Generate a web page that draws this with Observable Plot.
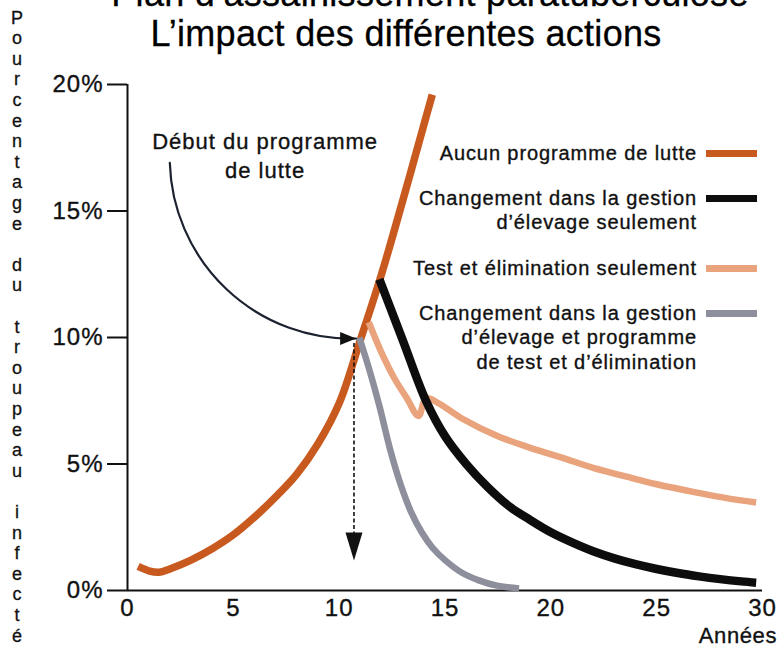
<!DOCTYPE html>
<html><head><meta charset="utf-8">
<script src="https://cdn.jsdelivr.net/npm/d3@7"></script>
<script src="https://cdn.jsdelivr.net/npm/@observablehq/plot@0.6"></script>
<style>
body{margin:0;background:#fff;font-family:"Liberation Sans",Arial,Helvetica,sans-serif;color:#111}
#wrap{position:relative;width:780px;height:651px;overflow:hidden;background:#fff}
.tl{position:absolute;white-space:nowrap;text-align:center;font-size:36px;line-height:40px;letter-spacing:0.3px;color:#000;-webkit-text-stroke:0.3px #000}
#t1{left:0;width:860px;top:-26px}
#t2{left:0;width:812px;top:14px}
#ylab{position:absolute;left:0;top:7.7px;width:34px;text-align:center;font-size:18px;line-height:20.6px;color:#111;z-index:5;-webkit-text-stroke:0.3px #111}
#chart{position:absolute;left:0;top:60px;z-index:1}
#legend{position:absolute;left:0;top:0;width:780px;height:651px;pointer-events:none;z-index:6}
.lt{position:absolute;right:83px;font-size:20px;line-height:24.5px;letter-spacing:0.9px;text-align:right;white-space:nowrap;color:#111;-webkit-text-stroke:0.35px #111}
.sw{position:absolute;left:706px;width:51px;height:7px}
#xlab{position:absolute;right:3px;top:623px;font-size:22px;line-height:26px;letter-spacing:0.6px;color:#111;z-index:6;-webkit-text-stroke:0.35px #111}
</style></head>
<body><div id="wrap">
<div id="t1" class="tl">Plan d’assainissement paratuberculose</div>
<div id="t2" class="tl">L’impact des différentes actions</div>
<div id="chart"></div>
<div id="ylab"></div>
<div id="legend"></div>
<div id="xlab">Années</div>
</div>
<script>
// ---- data (years, % of infected herd) ----
const aucun = [[0.5,0.95],[1.0,0.78],[1.5,0.72],[2.0,0.85],[3.0,1.2],[4.0,1.65],[5.0,2.2],[6.0,2.9],[7.0,3.7],[8.0,4.6],[9.0,5.8],[10.0,7.4],[11.0,9.9],[12.0,12.5],[13.0,15.4],[14.0,18.4],[14.4,19.6]];
const gestion = [[11.9,12.3],[13.0,9.9],[14.1,7.5],[15,6.1],[16,5.0],[17,4.1],[18,3.35],[19,2.8],[20,2.3],[21,1.9],[22,1.55],[23,1.27],[24,1.04],[25,0.85],[26,0.69],[27,0.56],[28,0.45],[29,0.36],[29.7,0.31]];
const testElim = [[11.4,10.6],[12.0,9.4],[12.6,8.4],[13.2,7.6],[13.75,6.9],[14.1,7.6],[14.7,7.4],[15.8,6.8],[17.5,6.1],[19,5.65],[20.7,5.2],[22,4.85],[23.8,4.45],[25,4.2],[26.9,3.87],[28.3,3.65],[29.7,3.48]];
const combine = [[10.95,10],[11.4,8.8],[11.9,7.3],[12.4,5.6],[12.9,4.2],[13.4,3.1],[13.9,2.3],[14.4,1.7],[15,1.2],[15.8,0.7],[16.6,0.4],[17.4,0.2],[18.5,0.08]];

const xTicks = [0,5,10,15,20,25,30];
const yTicks = [0,5,10,15,20];

const legendLabels = [
  "Aucun programme de lutte",
  "Changement dans la gestion\nd’élevage seulement",
  "Test et élimination seulement",
  "Changement dans la gestion\nd’élevage et programme\nde test et d’élimination"
];
const seriesColors = ["#c85a1f","#0d0d0d","#e9a47e","#8d909c"];
const seriesWidths = [7.5,8.5,6.5,6.5];

// annotations
const startLabel = "Début du programme\nde lutte";
const startLabelPos = [{x:6.5, y:18.25}];
const curvedArrow = [{x1:2.0, y1:16.9, x2:10.8, y2:9.96}];
const dashedDrop = [{x:10.7, y1:9.76, y2:1.6}];
const dashedTip = [{x:10.7, y:1.19}];

const yLabelText = "Pourcentage du troupeau infecté";

// ---- helpers ----
const toRows = pts => pts.map(([x,y]) => ({x,y}));
const headSymbol = (L, W) => ({draw(ctx){ctx.moveTo(0,0);ctx.lineTo(W/2,L);ctx.lineTo(-W/2,L);ctx.closePath();}});

const drawOrder = [0,2,3,1];
const allSeries = [aucun, gestion, testElim, combine];

const plot = Plot.plot({
  width: 780, height: 591,
  marginTop: 24, marginBottom: 61, marginLeft: 127, marginRight: 18,
  x: {domain:[0,30]},
  y: {domain:[0,20]},
  style: {fontFamily: '"Liberation Sans", Arial, Helvetica, sans-serif', letterSpacing: "1px", background: "#fff", color: "#111"},
  marks: [
    Plot.axisY({ticks: yTicks, tickFormat: d => d + "%", tickSize: 20, tickPadding: 4, fontSize: 24, strokeWidth: 2, label: null}),
    Plot.axisX({ticks: xTicks, tickSize: 0, tickPadding: 8, fontSize: 24, label: null}),
    Plot.ruleX([0], {strokeWidth: 2}),
    Plot.ruleY([0], {strokeWidth: 2}),
    ...drawOrder.map(i => Plot.line(toRows(allSeries[i]), {
      x: "x", y: "y", curve: "catmull-rom",
      stroke: seriesColors[i], strokeWidth: seriesWidths[i],
      strokeLinecap: "butt", strokeLinejoin: "round"
    })),
    Plot.arrow(curvedArrow, {x1:"x1", y1:"y1", x2:"x2", y2:"y2", bend: -45, headLength: 0, stroke: "#1c2230", strokeWidth: 2.2}),
    Plot.dot(curvedArrow, {x:"x2", y:"y2", r: 5, symbol: headSymbol(16,13), rotate: 90, fill: "#111", stroke: "none"}),
    Plot.ruleX(dashedDrop, {x:"x", y1:"y1", y2:"y2", stroke:"#111", strokeWidth: 1.6, strokeDasharray: "4,2.5"}),
    Plot.dot(dashedTip, {x:"x", y:"y", r: 5, symbol: headSymbol(28,17), rotate: 180, fill: "#111", stroke: "none"}),
    Plot.text(startLabelPos, {x:"x", y:"y", text: () => startLabel, lineAnchor: "top", lineHeight: 1.32, fontSize: 22, fill: "#111", stroke: "#111", strokeWidth: 0.35})
  ]
});
// slightly heavier tick labels, as in the reference
d3.select(plot).selectAll("g[aria-label$='tick label'] text").attr("stroke", "#111").attr("stroke-width", 0.35);
document.getElementById("chart").appendChild(plot);

// y label stacked letters
const yl = document.getElementById("ylab");
for (const ch of yLabelText) {
  const d = document.createElement("div");
  d.textContent = ch === " " ? "\u00a0" : ch;
  yl.appendChild(d);
}

// legend
const legendCenters = [153, 198, 268, 313];
const lg = document.getElementById("legend");
legendLabels.forEach((lab, i) => {
  const t = document.createElement("div");
  t.className = "lt";
  t.style.top = (legendCenters[i] - 12.25) + "px";
  t.innerHTML = lab.split("\n").join("<br>");
  lg.appendChild(t);
  const s = document.createElement("div");
  s.className = "sw";
  s.style.top = (legendCenters[i] - 3.5) + "px";
  s.style.background = seriesColors[i];
  lg.appendChild(s);
});
</script>
</body></html>
